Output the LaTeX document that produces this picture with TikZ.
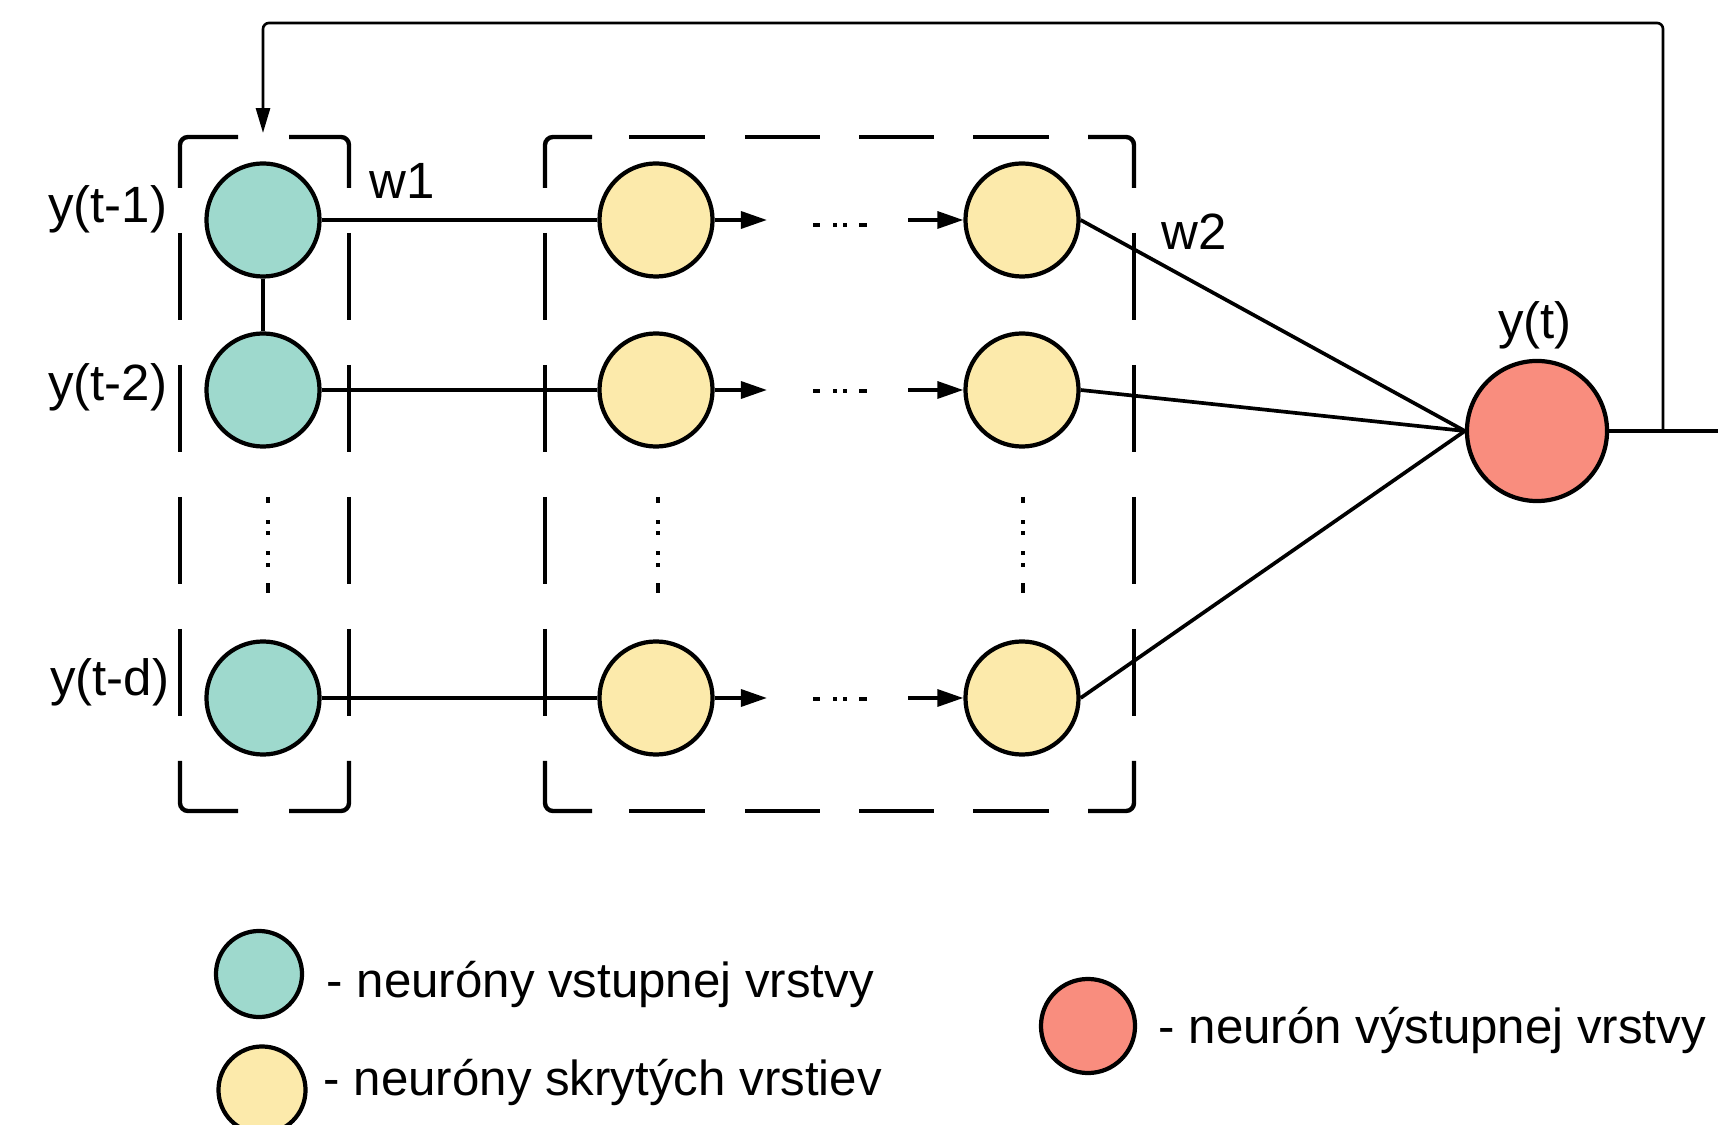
\documentclass[tikz,border=0pt]{standalone}
\usepackage{fontspec}
\setmainfont{Liberation Sans}
\usetikzlibrary{arrows.meta}

\definecolor{inputfill}{HTML}{9ED9CD}
\definecolor{hiddenfill}{HTML}{FCEAAB}
\definecolor{outputfill}{HTML}{F98D7E}

\begin{document}
\begin{tikzpicture}[x=0.01cm, y=-0.01cm,
  neuron/.style={circle, draw=black, line width=1.2pt, minimum size=1.13cm, inner sep=0pt},
  inneuron/.style={neuron, fill=inputfill},
  hidneuron/.style={neuron, fill=hiddenfill},
  outneuron/.style={neuron, fill=outputfill, minimum size=1.40cm},
  conn/.style={line width=1.05pt, draw=black},
  fbline/.style={line width=0.75pt, draw=black, rounded corners=0.06cm},
  tip/.style={-{Triangle[length=7.4pt, width=4.8pt]}},
  boxline/.style={line width=1.25pt, rounded corners=0.08cm, line cap=butt},
  lbl/.style={inner sep=0pt, font=\fontsize{14.5}{17}\selectfont},
  legtext/.style={inner sep=0pt, anchor=base west, font=\fontsize{14}{17}\selectfont},
  hdots/.style={line width=1.1pt, dash pattern=on 0.07cm off 0.13cm on 0.04cm off 0.06cm on 0.04cm off 0.12cm on 0.08cm off 1cm},
  vdots/.style={line width=1.1pt, dash pattern=on 0.06cm off 0.17cm on 0.04cm off 0.07cm on 0.04cm off 0.16cm on 0.04cm off 0.08cm on 0.04cm off 0.16cm on 0.10cm off 1cm}
]
\useasboundingbox (0,0) rectangle (1718,1125);
\fill[white] (0,0) rectangle (1718,1125);

% ---- dashed group frames ----
% input layer frame
\draw[boxline] (180,188) -- (180,137) -- (238,137);
\draw[boxline] (289,137) -- (349,137) -- (349,188);
\draw[boxline] (180,761) -- (180,811) -- (238,811);
\draw[boxline] (289,811) -- (349,811) -- (349,761);
% hidden layers frame
\draw[boxline] (545,188) -- (545,137) -- (592,137);
\draw[boxline] (1088,137) -- (1134,137) -- (1134,188);
\draw[boxline] (545,761) -- (545,811) -- (592,811);
\draw[boxline] (1088,811) -- (1134,811) -- (1134,761);
\foreach \x in {180,349,545,1134}
  \foreach \a/\b in {233/320,365/452,497/584,629/716}
    \draw[boxline] (\x,\a) -- (\x,\b);
\foreach \y in {137,811}
  \foreach \a/\b in {629/705,745/820,859/934,973/1049}
    \draw[boxline] (\a,\y) -- (\b,\y);

% ---- neurons ----
\node[inneuron] (in1) at (263,220) {};
\node[inneuron] (in2) at (263,390) {};
\node[inneuron] (ind) at (263,698) {};
\node[hidneuron] (h11) at (656,220) {};
\node[hidneuron] (h21) at (656,390) {};
\node[hidneuron] (hd1) at (656,698) {};
\node[hidneuron] (h12) at (1022,220) {};
\node[hidneuron] (h22) at (1022,390) {};
\node[hidneuron] (hd2) at (1022,698) {};
\node[outneuron] (out) at (1537,431) {};

% ---- connections ----
\draw[conn] (in1) -- (in2);
\draw[conn] (in1) -- (h11);
\draw[conn] (in2) -- (h21);
\draw[conn] (ind) -- (hd1);

\foreach \r/\y in {1/220,2/390,d/698}{
  \coordinate (a\r) at (767,\y);
  \coordinate (b\r) at (908,\y);
}
\draw[conn, tip] (h11) -- (a1);
\draw[conn, tip] (h21) -- (a2);
\draw[conn, tip] (hd1) -- (ad);
\draw[conn, tip] (b1) -- (h12);
\draw[conn, tip] (b2) -- (h22);
\draw[conn, tip] (bd) -- (hd2);

% elided neurons within a row
\foreach \y in {225,391,699}
  \draw[hdots] (813,\y) -- (867,\y);
% elided rows
\foreach \x in {268,658,1023}
  \draw[vdots] (\x,497) -- (\x,593);

\draw[conn] (h12.east) -- (out.west);
\draw[conn] (h22.east) -- (out.west);
\draw[conn] (hd2.east) -- (out.west);

% output and feedback loop
\coordinate (outEnd) at (1718,431);
\coordinate (fb) at (1663,431);
\coordinate (fbTop) at (263,23);
\coordinate (fbEnd) at (263,133);
\draw[conn, line width=1.4pt] (out.east) -- (fb);
\draw[conn] (fb) -- (outEnd);
\draw[fbline, -{Triangle[length=7.1pt, width=4pt]}] (fb) |- (fbTop) -- (fbEnd);

% ---- labels ----
\node[lbl, anchor=east] (l1) at (168,209) {y(t-1)};
\node[lbl, anchor=east] (l2) at (168,387) {y(t-2)};
\node[lbl, anchor=east] (ld) at (170,682) {y(t-d)};
\node[lbl] (w1) at (402,181) {w1};
\node[lbl] (w2) at (1194,232) {w2};
\node[lbl] (yt) at (1535,325) {y(t)};

% ---- legend ----
\node[inneuron, minimum size=0.86cm] (lg1) at (259,974) {};
\node[legtext] (lt1) at (326,997) {- neuróny vstupnej vrstvy};
\node[hidneuron, minimum size=0.87cm] (lg2) at (262,1090) {};
\node[legtext] (lt2) at (323,1095) {- neuróny skrytých vrstiev};
\node[outneuron, minimum size=0.94cm] (lg3) at (1088,1026) {};
\node[legtext] (lt3) at (1158,1043) {- neurón výstupnej vrstvy};
\end{tikzpicture}
\end{document}
